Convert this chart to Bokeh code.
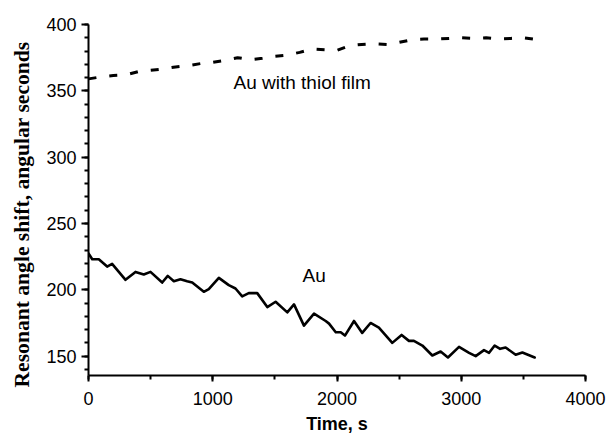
from bokeh.plotting import figure
from bokeh.models import Range1d, Label, SingleIntervalTicker, Title
from bokeh.embed import file_html
from bokeh.resources import INLINE

# Au with thiol film (dashed)
thiol_t = [0, 100, 200, 300, 400, 500, 600, 700, 800, 900, 1000, 1100, 1200, 1300,
           1400, 1500, 1600, 1700, 1800, 1900, 2000, 2100, 2200, 2300, 2400, 2500,
           2600, 2700, 2800, 2900, 3000, 3100, 3200, 3300, 3400, 3500, 3580]
thiol_v = [359, 360.5, 361.5, 362, 364.5, 365.5, 366.5, 368, 369, 370.5, 371.5, 373,
           375, 373.5, 374.5, 376, 377, 379, 381.5, 381, 380.5, 384, 385, 385.5,
           385, 386.5, 388.5, 389, 389, 389.5, 390, 389.5, 390, 389, 389.5, 390, 389]

# Au (solid)
au_t = [0, 30, 83, 150, 190, 298, 378, 445, 499, 593, 638, 687, 740, 794, 835, 928,
        968, 1049, 1129, 1183, 1237, 1290, 1358, 1439, 1506, 1600, 1654, 1734, 1815,
        1909, 1936, 1990, 2030, 2064, 2137, 2203, 2270, 2337, 2445, 2520, 2579, 2619,
        2687, 2767, 2834, 2893, 2982, 3063, 3116, 3183, 3224, 3269, 3313, 3357, 3438,
        3492, 3591]
au_v = [227.5, 223, 223, 217.5, 219.5, 207.5, 213.5, 211.5, 213.5, 205.5, 210.5,
        206.5, 208, 206.5, 205.5, 198.5, 200.5, 209, 203.5, 201, 195, 197.5, 197.5,
        187, 191, 183, 189, 173, 182, 176.5, 174.5, 168, 168, 165.5, 176.5, 167.5,
        175, 171.5, 160, 166, 161.5, 161.5, 158, 150.5, 153.5, 149, 157, 152.5, 150,
        154.5, 152.5, 158, 155.5, 156.5, 151, 152.7, 149]

x_ticks = [0, 1000, 2000, 3000, 4000]
y_ticks = [150, 200, 250, 300, 350, 400]

p = figure(width=609, height=439, output_backend="svg", toolbar_location=None,
           x_range=Range1d(0, 4000), y_range=Range1d(135.4, 400),
           min_border_left=88, min_border_right=24, min_border_top=24,
           min_border_bottom=64)
p.outline_line_color = None
p.xgrid.visible = False
p.ygrid.visible = False

p.line(thiol_t, thiol_v, line_color="black", line_width=3, line_dash="8 13",
       line_join="round")
p.line(au_t, au_v, line_color="black", line_width=2.6, line_join="round",
       line_cap="round")

p.xaxis.ticker = SingleIntervalTicker(interval=1000, num_minor_ticks=2)
p.yaxis.ticker = SingleIntervalTicker(interval=50, num_minor_ticks=5)

for ax in (p.xaxis[0], p.yaxis[0]):
    ax.axis_line_width = 2
    ax.axis_line_color = "black"
    ax.major_tick_line_width = 2
    ax.minor_tick_line_width = 2
    ax.major_tick_line_color = "black"
    ax.minor_tick_line_color = "black"
    ax.major_tick_out = 7
    ax.major_tick_in = 0
    ax.minor_tick_out = 4
    ax.minor_tick_in = 0
    ax.major_label_text_font = "Liberation Sans"
    ax.major_label_text_font_size = "18px"
    ax.major_label_text_color = "black"
    ax.major_label_standoff = 5

p.xaxis.major_label_standoff = 10
p.xaxis.major_tick_out = 6
p.xaxis.axis_label = "Time, s"
p.xaxis.axis_label_text_font = "Liberation Sans"
p.xaxis.axis_label_text_font_style = "bold"
p.xaxis.axis_label_text_font_size = "18px"
p.xaxis.axis_label_text_color = "black"
p.xaxis.axis_label_standoff = 6

# y-axis title, set a little below the frame centre as in the original
p.add_layout(Title(text="Resonant angle shift, angular seconds",
                   text_font="Liberation Serif", text_font_style="bold",
                   text_font_size="21.6px", text_color="black",
                   align="left", offset=-12, vertical_align="top",
                   standoff=16), "left")

p.add_layout(Label(x=1167, y=356.5, text="Au with thiol film",
                   text_font="Liberation Sans", text_font_size="19px",
                   text_color="black", text_baseline="alphabetic"))
p.add_layout(Label(x=1723, y=210.6, text="Au",
                   text_font="Liberation Sans", text_font_size="19px",
                   text_color="black", text_baseline="alphabetic"))

open("out.html", "w").write(file_html(p, INLINE))
